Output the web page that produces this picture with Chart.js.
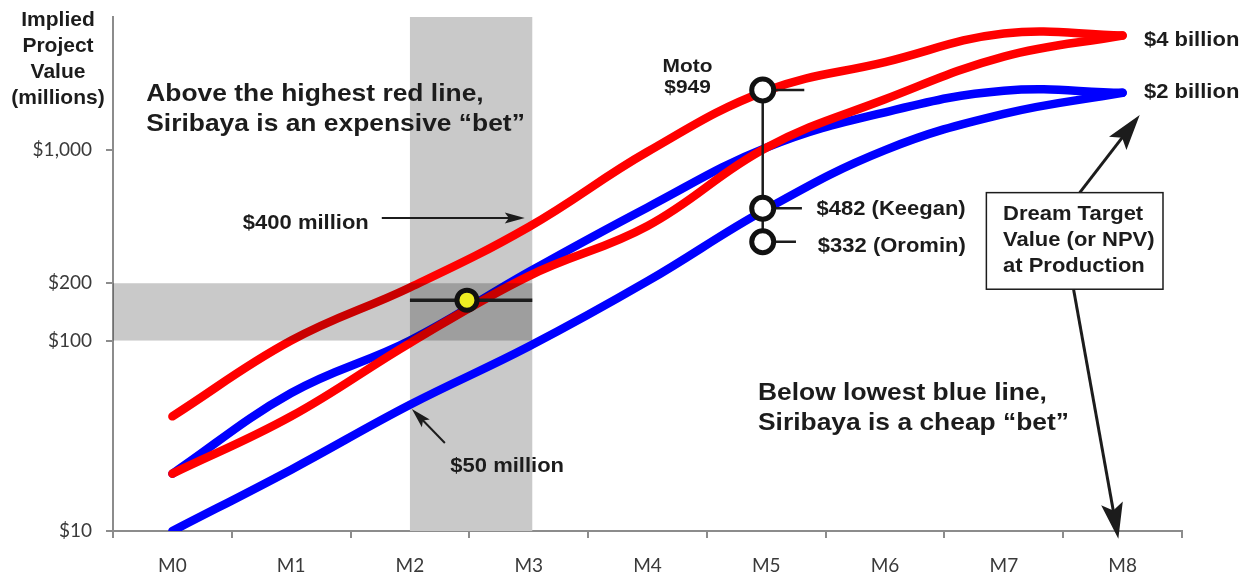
<!DOCTYPE html>
<html>
<head>
<meta charset="utf-8">
<script src="https://cdn.jsdelivr.net/npm/chart.js@4.4.1/dist/chart.umd.min.js"></script>
<style>
  html, body { margin: 0; padding: 0; background: #fff; }
  #wrap { width: 1251px; height: 580px; position: relative; }
</style>
</head>
<body>
<div id="wrap"><canvas id="chart"></canvas></div>
<script>
// milestones on the x axis and value ticks on the y axis ($ millions)
const milestones = ['M0', 'M1', 'M2', 'M3', 'M4', 'M5', 'M6', 'M7', 'M8'];
const yTicks = [10, 100, 200, 1000];

// implied project value at each milestone ($ millions)
const redHigh  = [40, 100, 190, 395, 980, 2050, 2900, 4100, 4000];
const redLow   = [20, 40, 97, 218, 400, 1030, 1850, 3100, 4000];
const blueHigh = [20, 53, 100, 229, 500, 1030, 1580, 2050, 2000];
const blueLow  = [10, 21, 46, 93, 205, 490, 1000, 1550, 2000];

// shaded windows
const bandMilestones = [2, 3.03];
const bandValues = [100, 200];

// Siribaya marker and its milestone span
const siribaya = { x: 2.48, y: 163 };
const siribayaSpan = [2, 3.03];

// peer markers near M5 (Moto, Keegan, Oromin)
const peerNames = ['Moto', 'Keegan', 'Oromin'];
const peerX = 4.97;
const peerValues = [2070, 495, 330];
const peerStubEnd = [5.32, 5.30, 5.25];

const INK = '#1c1c1c';
const AXIS = '#8c8c8c';

// annotation text, anchored in data units (x = milestone index, y = value)
const notes = [
    { lines: ['Above the highest red line,', 'Siribaya is an expensive \u201cbet\u201d'], x: -0.22, y: 1810, size: 24, lh: 30 },
    { lines: ['Below lowest blue line,', 'Siribaya is a cheap \u201cbet\u201d'], x: 4.93, y: 48.8, size: 24, lh: 30 },
    { lines: ['$400 million'], x: 0.593, y: 386, size: 20 },
    { lines: ['$50 million'], x: 2.34, y: 20.5, size: 20 },
    { lines: ['Moto', '$949'], x: 4.337, y: 2580, size: 19, lh: 21.6, align: 'center' },
    { lines: ['$482 (Keegan)'], x: 5.423, y: 457, size: 20 },
    { lines: ['$332 (Oromin)'], x: 5.434, y: 293, size: 20 },
    { lines: ['$4 billion'], x: 8.18, y: 3527, size: 20 },
    { lines: ['$2 billion'], x: 8.18, y: 1874, size: 20 }
];
const dreamBox = { x0: 6.853, x1: 8.34, y0: 598, y1: 186, textX: 6.993, textY: 430, lh: 25.8,
    lines: ['Dream Target', 'Value (or NPV)', 'at Production'] };
const arrows = [
    { from: [1.763, 440], to: [2.967, 440], w: 2, len: 20, head: 11 },
    { from: [2.294, 29], to: [2.016, 43.7], w: 2, len: 20, head: 11 },
    { from: [7.639, 598], to: [8.144, 1531], w: 3, len: 36, head: 22 },
    { from: [7.587, 186], to: [7.964, 9.1], w: 3, len: 36, head: 22 }
];

const toPts = vals => vals.map((v, i) => ({ x: i, y: v }));

function curve(label, vals, color, order) {
    return {
        label, data: toPts(vals), order,
        borderColor: color, borderWidth: 8.5,
        borderCapStyle: 'round', borderJoinStyle: 'round',
        tension: 0.4, pointRadius: 0, fill: false
    };
}

function connector(pts, width) {
    return {
        label: 'connector', data: pts, order: 1,
        borderColor: INK, borderWidth: width, tension: 0,
        pointRadius: 0, fill: false
    };
}

function marker(label, pts, fillColor, radius) {
    return {
        label, data: pts, order: 0, showLine: false,
        pointRadius: radius, pointBackgroundColor: fillColor,
        pointBorderColor: '#111', pointBorderWidth: 5
    };
}

const datasets = [
    curve('redHigh', redHigh, '#ff0000', 2),
    curve('redLow', redLow, '#ff0000', 3),
    curve('blueHigh', blueHigh, '#0000ff', 4),
    curve('blueLow', blueLow, '#0000ff', 5),
    connector(siribayaSpan.map(x => ({ x, y: siribaya.y })), 3.5),
    connector([{ x: peerX, y: peerValues[0] }, { x: peerX, y: peerValues[2] }], 2.5),
    ...peerValues.map((v, i) => connector([{ x: peerX, y: v }, { x: peerStubEnd[i], y: v }], 2.5)),
    marker('Siribaya', [siribaya], '#eeee22', 10),
    marker('peers', peerValues.map(v => ({ x: peerX, y: v })), '#ffffff', 11)
];
const topCurveIndex = 0;

function text(ctx, str, x, y, size, align) {
    ctx.save();
    ctx.font = `bold ${size}px "Liberation Sans", Arial, sans-serif`;
    ctx.fillStyle = INK;
    ctx.textBaseline = 'alphabetic';
    ctx.textAlign = align || 'left';
    ctx.translate(x, y);
    ctx.scale(1.1, 1);
    ctx.fillText(str, 0, 0);
    ctx.restore();
}

function arrow(ctx, x1, y1, x2, y2, w, len, head) {
    const ang = Math.atan2(y2 - y1, x2 - x1);
    ctx.save();
    ctx.strokeStyle = INK;
    ctx.fillStyle = INK;
    ctx.lineWidth = w;
    ctx.beginPath();
    ctx.moveTo(x1, y1);
    ctx.lineTo(x2 - Math.cos(ang) * len * 0.7, y2 - Math.sin(ang) * len * 0.7);
    ctx.stroke();
    ctx.translate(x2, y2);
    ctx.rotate(ang);
    ctx.beginPath();
    ctx.moveTo(0, 0);
    ctx.lineTo(-len, head / 2);
    ctx.lineTo(-len * 0.8, 0);
    ctx.lineTo(-len, -head / 2);
    ctx.closePath();
    ctx.fill();
    ctx.restore();
}

const annotate = {
    id: 'annotate',
    beforeDatasetsDraw(chart) {
        const { ctx, chartArea: a, scales: { x } } = chart;
        ctx.save();
        ctx.fillStyle = '#c9c9c9';
        const x0 = x.getPixelForValue(bandMilestones[0]);
        const x1 = x.getPixelForValue(bandMilestones[1]);
        ctx.fillRect(x0, a.top, x1 - x0, a.bottom - a.top);
        ctx.restore();
    },
    afterDatasetDraw(chart, args) {
        if (args.index !== topCurveIndex) return;
        const { ctx, chartArea: a, scales: { x, y } } = chart;
        ctx.save();
        ctx.fillStyle = 'rgba(0,0,0,0.21)';
        const xr = x.getPixelForValue(bandMilestones[1]);
        const yt = y.getPixelForValue(bandValues[1]);
        const yb = y.getPixelForValue(bandValues[0]);
        ctx.fillRect(a.left, yt, xr - a.left, yb - yt);
        ctx.restore();
    },
    afterDraw(chart) {
        const { ctx, scales: { x, y } } = chart;
        const px = v => x.getPixelForValue(v);
        const py = v => y.getPixelForValue(v);

        // axis title, stacked top-left
        ctx.save();
        ctx.font = 'bold 21px "Liberation Sans", Arial, sans-serif';
        ctx.fillStyle = INK;
        ctx.textAlign = 'center';
        ['Implied', 'Project', 'Value', '(millions)'].forEach((s, i) => ctx.fillText(s, 58, 26 + i * 26));
        ctx.restore();

        notes.forEach(n => {
            n.lines.forEach((s, i) => text(ctx, s, px(n.x), py(n.y) + i * (n.lh || 0), n.size, n.align));
        });

        arrows.forEach(a => arrow(ctx, px(a.from[0]), py(a.from[1]), px(a.to[0]), py(a.to[1]), a.w, a.len, a.head));

        // Dream target box
        const bx0 = px(dreamBox.x0), bx1 = px(dreamBox.x1);
        const by0 = py(dreamBox.y0), by1 = py(dreamBox.y1);
        ctx.save();
        ctx.fillStyle = '#fff';
        ctx.fillRect(bx0, by0, bx1 - bx0, by1 - by0);
        ctx.strokeStyle = INK;
        ctx.lineWidth = 1.5;
        ctx.strokeRect(bx0, by0, bx1 - bx0, by1 - by0);
        ctx.restore();
        dreamBox.lines.forEach((s, i) => text(ctx, s, px(dreamBox.textX), py(dreamBox.textY) + i * dreamBox.lh, 20));
    }
};

new Chart(document.getElementById('chart'), {
    type: 'line',
    data: { datasets },
    plugins: [annotate],
    options: {
        responsive: true,
        maintainAspectRatio: false,
        animation: false,
        events: [],
        layout: { padding: { top: 17, right: 69, left: 0, bottom: 0 } },
        plugins: { legend: { display: false }, tooltip: { enabled: false } },
        scales: {
            x: {
                type: 'linear', min: -0.5, max: 8.5,
                afterBuildTicks: axis => { axis.ticks = milestones.map((_, i) => ({ value: i })); },
                afterFit: axis => {
                    axis.height = 49;
                    axis.paddingLeft = 0;
                    axis.paddingRight = 0;
                },
                ticks: {
                    autoSkip: false, maxRotation: 0, padding: 16,
                    color: '#3a3a3a', font: { family: 'Lato', size: 19 },
                    callback: v => milestones[v]
                },
                grid: { offset: true, drawOnChartArea: false, tickLength: 7, color: AXIS, lineWidth: 2 },
                border: { display: true, color: AXIS, width: 2 }
            },
            y: {
                type: 'logarithmic', min: 10, max: 5000,
                afterBuildTicks: axis => { axis.ticks = yTicks.map(v => ({ value: v })); },
                afterFit: axis => {
                    axis.width = 113;
                    axis.paddingTop = 0;
                    axis.paddingBottom = 0;
                },
                ticks: {
                    autoSkip: false, padding: 14,
                    color: '#3a3a3a', font: { family: 'Lato', size: 19 },
                    callback: v => '$' + Number(v).toLocaleString('en-US')
                },
                grid: { drawOnChartArea: false, tickLength: 7, color: AXIS, lineWidth: 2 },
                border: { display: true, color: AXIS, width: 2 }
            }
        }
    }
});
</script>
</body>
</html>
